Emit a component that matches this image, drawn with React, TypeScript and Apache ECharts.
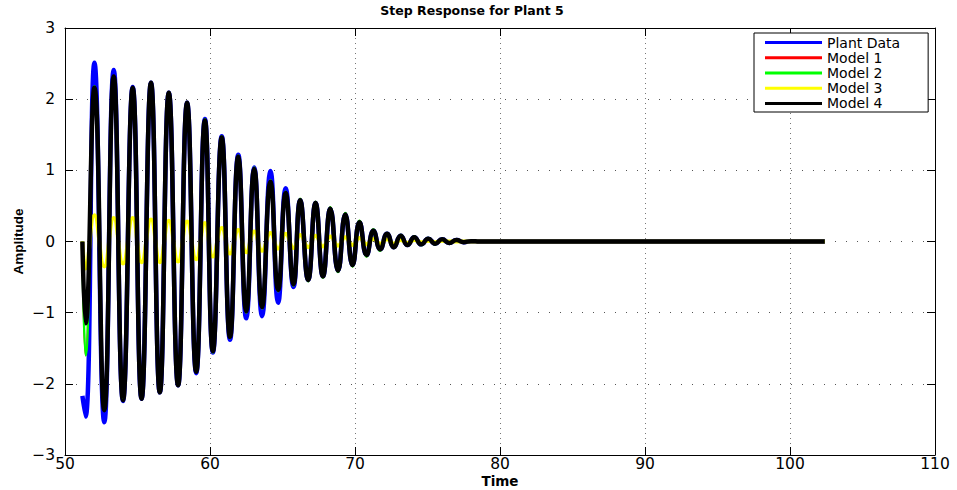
import React, { useEffect, useRef } from "react";
import * as echarts from "echarts";

const titleText = "Step Response for Plant 5";
const xName = "Time";
const yName = "Amplitude";
const seriesNames = ["Plant Data", "Model 1", "Model 2", "Model 3", "Model 4"];
const seriesColors = ["#0000ff", "#ff0000", "#00ff00", "#ffff00", "#000000"];
const seriesWidths = [4.5, 2, 2.5, 4, 4.5];

// extrema times of the oscillation
const time = [
  51.2, 51.42, 52.03, 52.71, 53.36, 54.0, 54.67, 55.28, 55.93, 56.54, 57.16, 57.8, 58.42, 59.05, 59.65,
  60.2, 60.81, 61.38, 61.95, 62.5, 63.05, 63.59, 64.17, 64.7, 65.22, 65.76, 66.22, 66.77, 67.28, 67.79,
  68.3, 68.83, 69.33, 69.83, 70.31, 70.8, 71.27, 71.74, 72.21, 72.68, 73.15, 73.62, 74.09, 74.57, 75.05,
  75.53, 76.01, 76.5, 77.0, 77.5, 78.0, 78.6, 102.4,
];

const plantData = [
  -2.17, -2.46, 2.51, -2.54, 2.41, -2.24, 2.17, -2.21, 2.23, -2.12, 2.09, -2.02, 1.95, -1.85, 1.72,
  -1.56, 1.48, -1.38, 1.22, -1.08, 1.04, -1.05, 0.99, -0.86, 0.75, -0.64, 0.58, -0.54, 0.54, -0.49,
  0.46, -0.41, 0.38, -0.33, 0.27, -0.19, 0.15, -0.11, 0.11, -0.08, 0.08, -0.05, 0.06, -0.04, 0.04,
  -0.03, 0.03, -0.02, 0.02, -0.01, 0.005, 0, 0,
];

const model1 = [
  0, -1.6, 2.18, -2.37, 2.32, -2.23, 2.16, -2.21, 2.23, -2.12, 2.09, -2.02, 1.95, -1.83, 1.72,
  -1.56, 1.48, -1.36, 1.21, -1.0, 1.04, -0.94, 0.86, -0.7, 0.7, -0.62, 0.6, -0.56, 0.56, -0.51,
  0.48, -0.43, 0.4, -0.35, 0.29, -0.21, 0.17, -0.13, 0.12, -0.09, 0.09, -0.06, 0.07, -0.05, 0.05,
  -0.04, 0.04, -0.03, 0.02, -0.01, 0.005, 0, 0,
];

const model2 = [
  0, -1.6, 2.18, -2.37, 2.32, -2.23, 2.16, -2.21, 2.23, -2.12, 2.09, -2.02, 1.95, -1.83, 1.72,
  -1.56, 1.48, -1.36, 1.21, -1.0, 1.04, -0.94, 0.86, -0.7, 0.7, -0.62, 0.6, -0.56, 0.56, -0.51,
  0.48, -0.43, 0.4, -0.35, 0.29, -0.21, 0.17, -0.13, 0.12, -0.09, 0.09, -0.06, 0.07, -0.05, 0.05,
  -0.04, 0.04, -0.03, 0.02, -0.01, 0.005, 0, 0,
];

const model3 = [
  0, -0.38, 0.37, -0.35, 0.33, -0.31, 0.33, -0.29, 0.31, -0.29, 0.29, -0.28, 0.28, -0.25, 0.26,
  -0.21, 0.19, -0.17, 0.16, -0.15, 0.14, -0.13, 0.12, -0.1, 0.11, -0.09, 0.09, -0.08, 0.08, -0.07,
  0.07, -0.06, 0.06, -0.05, 0.05, -0.04, 0.04, -0.03, 0.03, -0.03, 0.02, -0.02, 0.02, -0.01, 0.01,
  -0.01, 0.01, 0, 0, 0, 0, 0, 0,
];

const model4 = [
  0, -1.15, 2.16, -2.37, 2.32, -2.23, 2.16, -2.21, 2.23, -2.12, 2.09, -2.02, 1.95, -1.83, 1.7,
  -1.54, 1.46, -1.34, 1.19, -0.98, 1.02, -0.92, 0.84, -0.68, 0.68, -0.6, 0.58, -0.54, 0.54, -0.49,
  0.46, -0.41, 0.38, -0.33, 0.27, -0.19, 0.15, -0.11, 0.11, -0.08, 0.08, -0.05, 0.06, -0.04, 0.04,
  -0.03, 0.03, -0.02, 0.02, -0.01, 0.005, 0, 0,
];

const seriesValues = [plantData, model1, model2, model3, model4];

const FONT = "DejaVu Sans";

export default function App() {
  const ref = useRef<HTMLDivElement>(null);
  useEffect(() => {
    if (!ref.current) return;
    const chart = echarts.init(ref.current, null, { renderer: "svg" });
    const fmtY = (v: number) => (v < 0 ? "\u2212" + Math.abs(v) : String(v));
    const axisLine = { show: true, onZero: false, lineStyle: { color: "#000", width: 1 } };
    const tick = { show: true, inside: true, length: 8, lineStyle: { color: "#000", width: 1 } };
    chart.setOption({
      animation: false,
      backgroundColor: "#fff",
      title: {
        text: titleText,
        left: 472,
        top: 4,
        padding: 0,
        textAlign: "center",
        textStyle: { fontFamily: FONT, fontWeight: "bold", fontSize: 12.5, color: "#000" },
      },
      legend: {
        orient: "vertical",
        left: 754,
        top: 33,
        padding: [2, 28, 1, 11],
        itemWidth: 57,
        itemHeight: 3,
        itemGap: 0,
        icon: "rect",
        selectedMode: false,
        backgroundColor: "#fff",
        borderColor: "#000",
        borderWidth: 1,
        borderRadius: 0,
        textStyle: { fontFamily: FONT, fontSize: 14, color: "#000", lineHeight: 15.2 },
        data: seriesNames,
      },
      grid: { left: 65, right: 22, top: 28, bottom: 35, containLabel: false, outerBoundsMode: "none" },
      xAxis: [
        {
          type: "value",
          position: "bottom",
          min: 50,
          max: 110,
          interval: 10,
          name: xName,
          nameLocation: "middle",
          nameGap: 19,
          nameMoveOverlap: false,
          nameTextStyle: { fontFamily: FONT, fontWeight: "bold", fontSize: 13.5, color: "#000" },
          axisLine,
          axisTick: tick,
          axisLabel: { fontFamily: FONT, fontSize: 15.5, color: "#000", margin: 1 },
          splitLine: { show: true, lineStyle: { color: "#777", width: 1, type: [1, 4] } },
        },
        {
          type: "value",
          position: "top",
          min: 50,
          max: 110,
          interval: 10,
          axisLine,
          axisTick: tick,
          axisLabel: { show: false },
          splitLine: { show: false },
        },
      ],
      yAxis: [
        {
          type: "value",
          position: "left",
          min: -3,
          max: 3,
          interval: 1,
          name: yName,
          nameLocation: "middle",
          nameRotate: 90,
          nameGap: 40,
          nameMoveOverlap: false,
          nameTextStyle: { fontFamily: "Liberation Sans", fontWeight: "bold", fontSize: 13.5, color: "#000" },
          axisLine,
          axisTick: tick,
          axisLabel: { fontFamily: FONT, fontSize: 15.5, color: "#000", margin: 10, formatter: fmtY },
          splitLine: { show: true, lineStyle: { color: "#555", width: 1, type: [1, 10] } },
        },
        {
          type: "value",
          position: "right",
          min: -3,
          max: 3,
          interval: 1,
          axisLine,
          axisTick: tick,
          axisLabel: { show: false },
          splitLine: { show: false },
        },
      ],
      series: seriesNames.map((name, i) => ({
        name,
        type: "line",
        xAxisIndex: 0,
        yAxisIndex: 0,
        data: time.map((t, k) => [t, seriesValues[i][k]]),
        color: seriesColors[i],
        showSymbol: false,
        symbol: "none",
        smooth: 0.5,
        lineStyle: { color: seriesColors[i], width: seriesWidths[i] },
        itemStyle: { color: seriesColors[i] },
      })),
    });
    return () => chart.dispose();
  }, []);
  return (
    <div
      ref={ref}
      style={{ position: "fixed", left: 0, top: 0, width: 957, height: 490, background: "#fff" }}
    />
  );
}
